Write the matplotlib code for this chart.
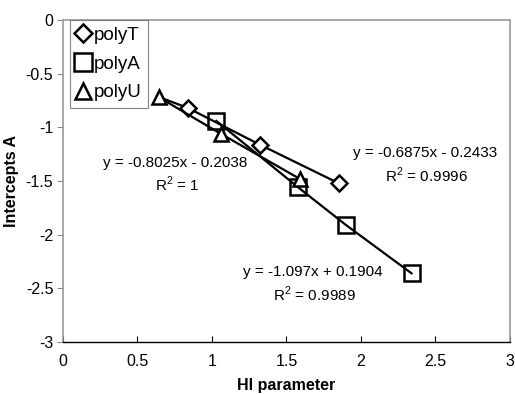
import matplotlib.pyplot as plt

plt.rcParams['font.family'] = ['Liberation Sans', 'DejaVu Sans']
plt.rcParams['mathtext.fontset'] = 'custom'
plt.rcParams['mathtext.rm'] = 'Liberation Sans'

# data
polyT_x = [0.65, 0.84, 1.32, 1.85]
polyT_y = [-0.72, -0.82, -1.16, -1.52]
polyA_x = [1.03, 1.58, 1.90, 2.34]
polyA_y = [-0.94, -1.56, -1.91, -2.36]
polyU_x = [0.645, 1.06, 1.59]
polyU_y = [-0.72, -1.06, -1.48]

fig = plt.figure(figsize=(5.15, 3.94), dpi=100)
ax = fig.add_axes([0.1223, 0.132, 0.8677, 0.817])

# first polyT point sits under the polyU triangle, so only its line shows
ax.plot(polyT_x, polyT_y, color='black', lw=1.6, zorder=3)
ax.plot(polyT_x[1:], polyT_y[1:], ls='none', marker='D', ms=8,
        mfc='white', mec='black', mew=1.8, label='polyT', zorder=3)
ax.plot(polyA_x, polyA_y, color='black', lw=1.6, marker='s', ms=11,
        mfc='none', mec='black', mew=1.8, label='polyA', zorder=3)
ax.plot(polyU_x, polyU_y, color='black', lw=1.6, marker='^', ms=10.5,
        mfc='white', mec='black', mew=1.8, label='polyU', zorder=4)

fs = 11
ax.text(0.75, -1.33, 'y = -0.8025x - 0.2038', ha='center', va='center', fontsize=fs)
ax.text(0.77, -1.53, 'R$^2$ = 1', ha='center', va='center', fontsize=fs)
ax.text(2.43, -1.24, 'y = -0.6875x - 0.2433', ha='center', va='center', fontsize=fs)
ax.text(2.44, -1.45, 'R$^2$ = 0.9996', ha='center', va='center', fontsize=fs)
ax.text(1.68, -2.35, 'y = -1.097x + 0.1904', ha='center', va='center', fontsize=fs)
ax.text(1.69, -2.56, 'R$^2$ = 0.9989', ha='center', va='center', fontsize=fs)

ax.set_xlim(0, 3)
ax.set_ylim(-3, 0)
ax.set_xticks([0, 0.5, 1, 1.5, 2, 2.5, 3])
ax.set_xticklabels(['0', '0.5', '1', '1.5', '2', '2.5', '3'])
ax.set_yticks([0, -0.5, -1, -1.5, -2, -2.5, -3])
ax.set_yticklabels(['0', '-0.5', '-1', '-1.5', '-2', '-2.5', '-3'])
ax.tick_params(axis='x', direction='in', length=4, labelsize=11.5, pad=9, color='black')
ax.tick_params(axis='y', direction='out', length=4, labelsize=11.5, pad=3, color='#888888')

for s in ['left', 'top', 'right']:
    ax.spines[s].set_color('#999999')
    ax.spines[s].set_linewidth(1.2)
ax.spines['bottom'].set_color('black')
ax.spines['bottom'].set_linewidth(1.0)

ax.set_xlabel('HI parameter', fontsize=11.5, fontweight='bold', labelpad=6)
ax.set_ylabel('Intercepts A', fontsize=11.5, fontweight='bold', labelpad=5)

leg = ax.legend(loc='upper left', bbox_to_anchor=(0.015, 1.0), fontsize=13.5,
                frameon=True, fancybox=False, edgecolor='#666666',
                handlelength=0.75, handletextpad=0.2, borderpad=0.35,
                labelspacing=0.62, borderaxespad=0.0, markerscale=1.12)
leg.get_frame().set_linewidth(0.8)
for h in leg.legend_handles:
    h.set_linestyle('none')

fig.savefig('out.png', dpi=100)
